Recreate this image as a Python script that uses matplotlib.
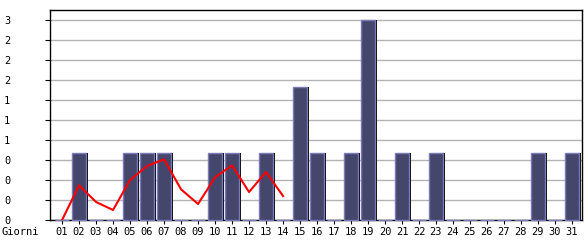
import numpy as np
from matplotlib import pyplot as plt

# daily data
days = ['%02d' % d for d in range(1, 32)]
bars = [0, 1, 0, 0, 1, 1, 1, 0, 0, 1, 1, 0, 1, 0, 2, 1, 0, 1, 3, 0,
        1, 0, 1, 0, 0, 0, 0, 0, 1, 0, 1]
line = [0, 0.52, 0.27, 0.15, 0.6, 0.81, 0.91, 0.46, 0.24, 0.64, 0.82, 0.42, 0.72, 0.36]
yticks = [0, 0.3, 0.6, 0.9, 1.2, 1.5, 1.8, 2.1, 2.4, 2.7, 3.0]
ylabels = ['0', '0', '0', '0', '1', '1', '1', '2', '2', '2', '3']

x = np.arange(1, 32)
fig = plt.figure(figsize=(5.85, 2.4), dpi=100)
ax = fig.add_axes([50/585, 20/240, 532/585, 210/240])

w = 0.78
ax.bar(x + 0.15, bars, width=w, color='black', zorder=2, clip_on=False)
ax.bar(x, bars, width=w, color='#44476b', edgecolor='#7a7ab8', linewidth=1.0,
       zorder=3, clip_on=False)
ax.plot(np.arange(1, len(line) + 1), line, color='#ff0000', linewidth=1.5, zorder=4)

ax.set_xlim(0.29, 31.59)
ax.set_ylim(0, 3.15)
ax.set_yticks(yticks)
ax.set_yticklabels(ylabels, family='DejaVu Sans Mono', fontsize=7.5)
ax.set_xticks(x)
ax.set_xticklabels(days, family='DejaVu Sans Mono', fontsize=7.5)
ax.tick_params(axis='y', length=3.6, pad=25)
ax.tick_params(axis='x', length=3, pad=2)
ax.yaxis.grid(True, color='#b4b4b4', linewidth=1.0, zorder=0)
ax.set_axisbelow(True)
for s in ax.spines.values():
    s.set_color('black')
    s.set_linewidth(1.0)

fig.text(2/585, 1 - 232/240, 'Giorni', family='DejaVu Sans Mono', fontsize=7.5,
         va='center', ha='left')

fig.savefig('out.png', dpi=100)
